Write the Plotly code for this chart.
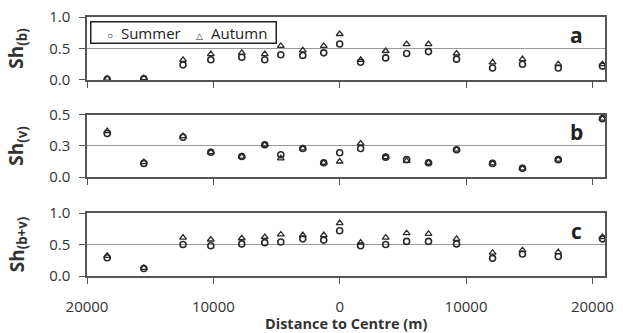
import plotly.graph_objects as go

distance = [-18400, -15500, -12400, -10200, -7750, -5930, -4660, -2920, -1260, 0,
            1660, 3640, 5300, 7030, 9250, 12100, 14470, 17300, 20800]

sh_b_summer = [0.01, 0.02, 0.24, 0.32, 0.36, 0.32, 0.40, 0.39, 0.43, 0.57,
               0.28, 0.35, 0.42, 0.45, 0.33, 0.19, 0.25, 0.19, 0.22]
sh_b_autumn = [0.02, 0.03, 0.32, 0.41, 0.43, 0.41, 0.54, 0.47, 0.54, 0.73,
               0.32, 0.46, 0.57, 0.57, 0.42, 0.28, 0.33, 0.25, 0.25]

sh_v_summer = [0.35, 0.11, 0.32, 0.20, 0.165, 0.26, 0.18, 0.23, 0.115, 0.196,
               0.23, 0.16, 0.14, 0.115, 0.22, 0.11, 0.07, 0.14, 0.47]
sh_v_autumn = [0.37, 0.12, 0.33, 0.20, 0.165, 0.26, 0.15, 0.23, 0.115, 0.125,
               0.27, 0.16, 0.13, 0.115, 0.22, 0.11, 0.07, 0.14, 0.47]

sh_bv_summer = [0.29, 0.12, 0.50, 0.48, 0.51, 0.53, 0.54, 0.59, 0.57, 0.72,
                0.48, 0.50, 0.55, 0.55, 0.51, 0.28, 0.35, 0.31, 0.59]
sh_bv_autumn = [0.32, 0.13, 0.61, 0.58, 0.60, 0.62, 0.66, 0.65, 0.65, 0.84,
                0.53, 0.61, 0.68, 0.67, 0.59, 0.37, 0.41, 0.38, 0.62]

x_tickvals = [-20000, -10000, 0, 10000, 20000]
x_ticktext = ["20000", "10000", "0", "10000", "20000"]

series_names = ["Summer", "Autumn"]
x_title = "Distance to Centre (m)"

panels = [
    ("y", sh_b_summer, sh_b_autumn, "<b>Sh<sub>(b)</sub></b>", [0, 0.5, 1.0], ["0.0", "0.5", "1.0"], [0, 1.0], "a"),
    ("y2", sh_v_summer, sh_v_autumn, "<b>Sh<sub>(v)</sub></b>", [0, 0.25, 0.5], ["0.0", "0.3", "0.5"], [0, 0.5], "b"),
    ("y3", sh_bv_summer, sh_bv_autumn, "<b>Sh<sub>(b+v)</sub></b>", [0, 0.5, 1.0], ["0.0", "0.5", "1.0"], [0, 1.0], "c"),
]

domains = [[0.757, 1.0], [0.382, 0.622], [0.0, 0.243]]
mcol = "#2a2a2a"
axcol = "#555555"
font = "Open Sans"
tcol = "#333333"

fig = go.Figure()
for i, (yname, s, a, title, tv, tt, rng, lab) in enumerate(panels):
    xa = "x" if i == 0 else f"x{i+1}"
    fig.add_trace(go.Scatter(x=distance, y=s, xaxis=xa, yaxis=yname, mode="markers",
                             name=series_names[0], showlegend=False,
                             marker=dict(symbol="circle-open", size=6, color=mcol, line=dict(width=1.6, color=mcol))))
    fig.add_trace(go.Scatter(x=distance, y=a, xaxis=xa, yaxis=yname, mode="markers",
                             name=series_names[1], showlegend=False,
                             marker=dict(symbol="triangle-up-open", size=6, color=mcol, line=dict(width=1.3, color=mcol))))
    axis_y = dict(domain=domains[i], range=rng, tickvals=tv, ticktext=tt,
                  showline=True, mirror=True, linecolor=axcol, linewidth=1.5,
                  showgrid=True, gridcolor="#9a9a9a", gridwidth=1, zeroline=False,
                  ticks="outside", ticklen=6, tickcolor=axcol, tickwidth=1.2,
                  ticklabelstandoff=6, automargin=False,
                  tickfont=dict(family=font, size=15, color=tcol),
                  title=dict(text=title, font=dict(family=font, size=19, color=tcol), standoff=20),
                  anchor=xa)
    axis_x = dict(range=[-20000, 21000], tickvals=x_tickvals, ticktext=x_ticktext,
                  showline=True, mirror=True, linecolor=axcol, linewidth=1.5,
                  showgrid=False, zeroline=False, ticks="outside", ticklen=6,
                  tickcolor=axcol, tickwidth=1.2, showticklabels=(i == 2),
                  ticklabelstandoff=10, automargin=False,
                  tickfont=dict(family=font, size=15, color=tcol),
                  anchor=yname, domain=[0, 1])
    yk = "yaxis" if i == 0 else f"yaxis{i+1}"
    xk = "xaxis" if i == 0 else f"xaxis{i+1}"
    fig.layout[yk] = axis_y
    fig.layout[xk] = axis_x
    fig.add_annotation(text=f"<b>{lab}</b>", xref=f"{xa} domain", yref=f"{yname} domain",
                       x=0.945, y=0.72, showarrow=False, xanchor="center", yanchor="middle",
                       font=dict(family=font, size=21, color="#222"))

# x axis title
fig.add_annotation(text=f"<b>{x_title}</b>", xref="x3 domain", yref="paper",
                   x=0.5, y=-0.185, xanchor="center", yanchor="middle", showarrow=False,
                   font=dict(family=font, size=14.5, color=tcol))

nb = "\u00a0"
legend_text = (f"{nb*4}<span style='font-size:10px'>○</span>{nb*2}{series_names[0]}{nb*4}"
               f"<span style='font-size:9px'>△</span>{nb*2}{series_names[1]}{nb*2}")
fig.add_annotation(text=legend_text, xref="x domain", yref="y domain", x=0.006, y=0.935,
                   xanchor="left", yanchor="top", showarrow=False, align="left",
                   bordercolor="#222", borderwidth=1.5, borderpad=0, bgcolor="white",
                   font=dict(family=font, size=15, color="#222"))

fig.update_layout(
    width=623, height=333,
    margin=dict(l=87, r=18, t=17, b=57),
    paper_bgcolor="white", plot_bgcolor="white",
    showlegend=False,
)

fig.write_html("out.html")
